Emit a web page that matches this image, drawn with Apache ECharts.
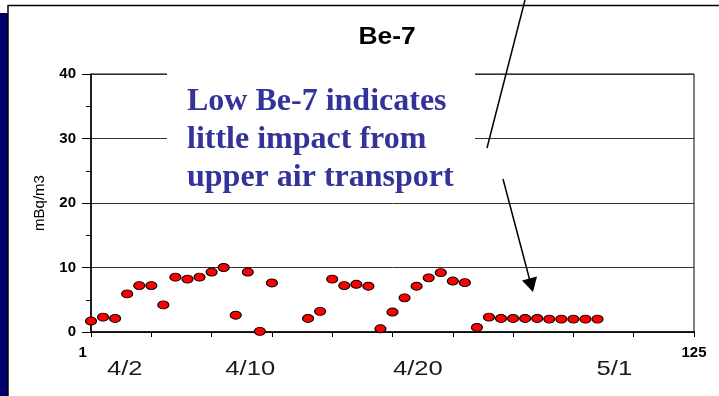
<!DOCTYPE html>
<html>
<head>
<meta charset="utf-8">
<script src="https://cdn.jsdelivr.net/npm/echarts@6/dist/echarts.min.js"></script>
<style>
html,body{margin:0;padding:0;background:#fff;}
#c{width:719px;height:396px;}
</style>
</head>
<body>
<div id="c"></div>
<script>
// Sample positions on the x axis (axis units) and Be-7 concentrations (mBq/m3)
const sampleX = [100.0,100.5,101.0,101.5,102.0,102.5,103.0,103.5,104.0,104.5,105.0,105.5,106.0,106.5,107.0,107.5,
                 109.0,109.5,110.0,110.5,111.0,111.5,112.0,112.5,113.0,113.5,114.0,114.5,115.0,115.5,116.0,
                 116.5,117.0,117.5,118.0,118.5,119.0,119.5,120.0,120.5,121.0];
const be7 =     [1.7,2.3,2.1,5.9,7.2,7.2,4.2,8.5,8.2,8.5,9.3,10.0,2.6,9.3,0.1,7.6,
                 2.1,3.2,8.2,7.2,7.4,7.1,0.5,3.1,5.3,7.1,8.4,9.2,7.9,7.65,0.7,
                 2.3,2.1,2.1,2.1,2.1,2.0,2.0,2.0,2.0,2.0];
const xMin = 100, xMax = 125, xStep = 2.5;
const yTicks = [0,10,20,30,40];
const dateLabels = ['4/2','4/10','4/20','5/1'];
const dateLabelPos = [101.4,106.6,113.55,121.7];
const titleText = 'Be-7';
const yName = 'mBq/m3';
const noteLines = ['Low Be-7 indicates','little impact from','upper air transport'];

const chart = echarts.init(document.getElementById('c'), null, {renderer:'canvas'});
const data = sampleX.map((x,i)=>[x, be7[i]]);

const gridLeft = 91, gridRight = 25, gridTop = 74, gridBottom = 64;
const plotW = 719 - gridLeft - gridRight;
function xPix(v){ return gridLeft + (v - xMin) / (xMax - xMin) * plotW; }

const graphics = [
  {type:'rect', z:100, shape:{x:0,y:13,width:8,height:383}, style:{fill:'#00006e'}},
  {type:'line', z:100, shape:{x1:8,y1:5,x2:8,y2:396}, style:{stroke:'#000',lineWidth:1.5}},
  {type:'line', z:100, shape:{x1:8,y1:5.5,x2:719,y2:5.5}, style:{stroke:'#000',lineWidth:1.5}},
  {type:'text', z:100, x:387, y:37, scaleX:1.1, style:{text:titleText, fontFamily:'Liberation Sans', fontWeight:'bold', fontSize:24, fill:'#000', textAlign:'center', textVerticalAlign:'middle'}},
  {type:'rect', z:100, shape:{x:167,y:68,width:308,height:134}, style:{fill:'#fff'}},
  {type:'text', z:101, x:187, y:83, style:{text:noteLines.join('\n'), fontFamily:'Liberation Serif', fontWeight:'bold', fontSize:32, lineHeight:38, fill:'#333399', textAlign:'left', textVerticalAlign:'top'}},
  {type:'line', z:100, shape:{x1:525,y1:0,x2:487,y2:148}, style:{stroke:'#000',lineWidth:1.5}},
  {type:'line', z:100, shape:{x1:503,y1:179,x2:530,y2:281}, style:{stroke:'#000',lineWidth:1.5}},
  {type:'polygon', z:100, shape:{points:[[533,292],[522,280.5],[537,276.5]]}, style:{fill:'#000'}},
  {type:'rect', z:100, shape:{x:87,y:341,width:70,height:45}, style:{fill:'#fff'}}
];
dateLabels.forEach((t,i)=>{
  graphics.push({type:'text', z:101, x:xPix(dateLabelPos[i]), y:369, scaleX:1.22,
    style:{text:t, fontFamily:'Liberation Sans', fontSize:21, fill:'#1a1a1a', textAlign:'center', textVerticalAlign:'middle'}});
});

chart.setOption({
  animation:false,
  backgroundColor:'#fff',
  grid:{left:gridLeft,right:gridRight,top:gridTop,bottom:gridBottom,show:true,borderColor:'#000',borderWidth:1,backgroundColor:'transparent'},
  xAxis:{
    type:'value', min:xMin, max:xMax, interval:xStep,
    axisLine:{show:true,lineStyle:{color:'#000',width:1.5}},
    axisTick:{show:true,length:5,lineStyle:{color:'#000',width:1}},
    splitLine:{show:false},
    axisLabel:{
      margin:13, color:'#000', fontFamily:'Liberation Sans', fontWeight:'bold', fontSize:15,
      formatter:function(v){ return (v===xMin||v===xMax) ? String(v) : ''; }
    }
  },
  yAxis:{
    type:'value', min:yTicks[0], max:yTicks[yTicks.length-1], interval:10,
    name:yName, nameLocation:'middle', nameGap:44, nameRotate:90,
    nameTextStyle:{fontFamily:'Liberation Sans', fontSize:15, color:'#000'},
    axisLine:{show:true,lineStyle:{color:'#000',width:1.5}},
    axisTick:{show:true,length:9,lineStyle:{color:'#000'}},
    minorTick:{show:true,splitNumber:2,length:5,lineStyle:{color:'#000'}},
    splitLine:{show:true,lineStyle:{color:'#333',width:1}},
    axisLabel:{margin:15,color:'#000',fontFamily:'Liberation Sans',fontWeight:'bold',fontSize:15}
  },
  series:[{
    type:'scatter', data:data, symbol:'circle', symbolSize:[11,8], clip:false,
    itemStyle:{color:'#ff0000', borderColor:'#000', borderWidth:1, opacity:1}
  }],
  graphic:graphics
});
</script>
</body>
</html>
